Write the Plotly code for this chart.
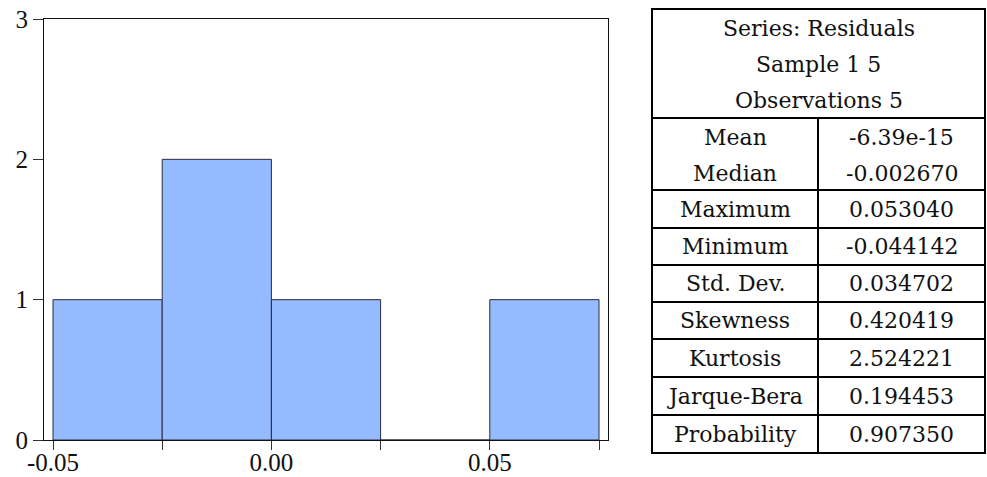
import plotly.graph_objects as go

# ---- data ----
bin_edges = [-0.05, -0.025, 0.0, 0.025, 0.05, 0.075]
counts = [1, 2, 1, 0, 1]
x_tick_labels = ["-0.05", "", "0.00", "", "0.05", ""]
y_ticks = [0, 1, 2, 3]

header_lines = ["Series: Residuals", "Sample 1 5", "Observations 5"]
stat_names = ["Mean", "Median", "Maximum", "Minimum", "Std. Dev.", "Skewness",
              "Kurtosis", "Jarque-Bera", "Probability"]
stat_values = ["-6.39e-15", "-0.002670", "0.053040", "-0.044142", "0.034702",
               "0.420419", "2.524221", "0.194453", "0.907350"]

W, H = 987, 477
centers = [(bin_edges[i] + bin_edges[i + 1]) / 2 for i in range(len(counts))]
bw = bin_edges[1] - bin_edges[0]

fig = go.Figure()
fig.add_trace(go.Bar(
    x=centers, y=counts, width=[bw] * len(counts),
    marker=dict(color="#94BBFF", line=dict(color="#2a2a3a", width=1)),
    showlegend=False, hoverinfo="skip",
))

def px(x):
    return x / W

def py(y):
    return 1 - y / H

serif = "Liberation Serif"
tfont = dict(family="DejaVu Serif", size=22, color="#111")

fig.update_layout(
    width=W, height=H,
    margin=dict(l=0, r=0, t=0, b=0),
    paper_bgcolor="white", plot_bgcolor="white",
    bargap=0,
    xaxis=dict(
        domain=[px(44), px(608)],
        range=[-0.05206, 0.07706],
        tickvals=bin_edges, ticktext=x_tick_labels,
        ticks="outside", ticklen=9, tickcolor="#333", tickwidth=1,
        ticklabelstandoff=-9,
        showgrid=False, zeroline=False,
        showline=True, linecolor="#111", linewidth=1, mirror=True,
        tickfont=dict(family=serif, size=25, color="#111"),
        automargin=False,
    ),
    yaxis=dict(
        domain=[py(440), py(19)],
        range=[0, 3],
        tickvals=y_ticks,
        ticks="outside", ticklen=10, tickcolor="#333", tickwidth=1,
        showgrid=False, zeroline=False,
        showline=True, linecolor="#111", linewidth=1, mirror=True,
        tickfont=dict(family=serif, size=25, color="#111"),
        automargin=False,
    ),
)

# ---- table ----
tl, tr, tt, tb = 652, 985, 9, 453
col_div = 818
h_lines = [118, 190, 228, 265, 302, 339, 377, 415]
lw = 2
shapes = [dict(type="rect", xref="paper", yref="paper",
               x0=px(tl), x1=px(tr), y0=py(tb), y1=py(tt),
               line=dict(color="black", width=lw))]
for y in h_lines:
    shapes.append(dict(type="line", xref="paper", yref="paper",
                       x0=px(tl), x1=px(tr), y0=py(y), y1=py(y),
                       line=dict(color="black", width=lw)))
shapes.append(dict(type="line", xref="paper", yref="paper",
                   x0=px(col_div), x1=px(col_div), y0=py(h_lines[0]), y1=py(tb),
                   line=dict(color="black", width=lw)))
fig.update_layout(shapes=shapes)

annotations = []
header_y = [28, 64, 100]
for txt, y in zip(header_lines, header_y):
    annotations.append(dict(text=txt, x=px((tl + tr) / 2), y=py(y), xref="paper", yref="paper",
                            showarrow=False, xanchor="center", yanchor="middle", font=tfont))
row_y = [137, 174, 209, 246, 283, 320, 358, 396, 434]
lc = (tl + col_div) / 2
vc = (col_div + tr) / 2
for name, val, y in zip(stat_names, stat_values, row_y):
    annotations.append(dict(text=name, x=px(lc), y=py(y), xref="paper", yref="paper",
                            showarrow=False, xanchor="center", yanchor="middle", font=tfont))
    annotations.append(dict(text=val, x=px(vc), y=py(y), xref="paper", yref="paper",
                            showarrow=False, xanchor="center", yanchor="middle", font=tfont))
fig.update_layout(annotations=annotations)

fig.write_html("out.html",
               config={"displayModeBar": False, "staticPlot": True},
               post_script="document.body.style.margin='0';document.body.style.padding='0';"
                           "document.documentElement.style.overflow='hidden';")
